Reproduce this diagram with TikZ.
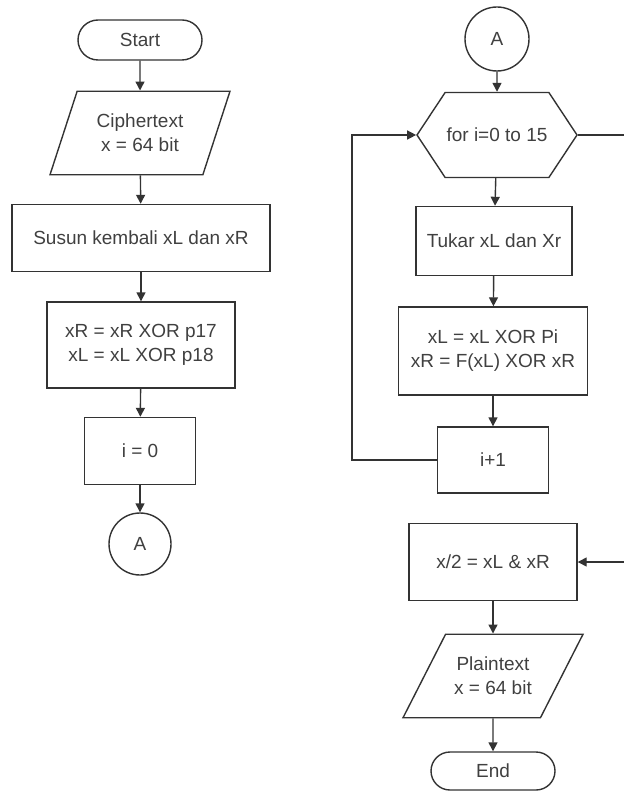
\documentclass[tikz,border=0pt]{standalone}
\usepackage{fontspec}
\setmainfont{Liberation Sans}
\usetikzlibrary{shapes.geometric,shapes.misc,shapes.symbols,arrows.meta}
\definecolor{linegray}{HTML}{333333}
\definecolor{textgray}{HTML}{404040}

\begin{document}
\begin{tikzpicture}[x=0.5pt,y=-0.5pt,
  font=\fontsize{9.5}{12}\selectfont,
  box/.style={draw=linegray,line width=0.7pt,text=textgray,align=center,inner sep=0pt},
  term/.style={box,rounded rectangle,minimum width=62pt,minimum height=20pt},
  io/.style={box,trapezium,trapezium stretches body,minimum width=90pt,inner ysep=11.4pt},
  proc/.style={box,rectangle},
  conn/.style={box,circle,minimum size=31pt},
  loophex/.style={box,signal,signal to=west and east,signal pointer angle=113,
    minimum width=80pt,minimum height=42.5pt},
  flow/.style={draw=linegray,line width=0.7pt,-{Triangle[length=4.5pt,width=4.5pt]}},
  wire/.style={draw=linegray,line width=0.7pt}]
\useasboundingbox (0,0) rectangle (624,791);

% left column
\node[term] (start) at (140,40) {Start};
\node[io,trapezium left angle=72,trapezium right angle=108] (cin) at (140,133) {Ciphertext\\x = 64 bit};
\node[proc,minimum width=129pt,minimum height=33.5pt] (swap0) at (141,238) {Susun kembali xL dan xR};
\node[proc,minimum width=94pt,minimum height=43pt] (pxor) at (141,345) {xR = xR XOR p17\\xL = xL XOR p18};
\node[proc,minimum width=55.5pt,minimum height=33.5pt] (init) at (140,451) {i = 0};
\node[conn] (aout) at (140,544) {A};

% right column
\node[conn,minimum size=32pt] (ain) at (497,39) {A};
\node[loophex] (loop) at (497,135) {for i=0 to 15};
\node[proc,minimum width=78pt,minimum height=34.5pt] (swap) at (494,241) {Tukar xL dan Xr};
\node[proc,minimum width=94.5pt,minimum height=44pt] (round) at (493,351) {xL = xL XOR Pi\\xR = F(xL) XOR xR};
\node[proc,minimum width=55.5pt,minimum height=33pt] (inc) at (493,460) {i+1};
\node[proc,minimum width=84pt,minimum height=38.5pt] (join) at (493,562) {x/2 = xL \& xR};
\node[io,trapezium left angle=63,trapezium right angle=117] (pout) at (493,676) {Plaintext\\x = 64 bit};
\node[term,minimum height=19pt] (end) at (493,771) {End};

\coordinate (back) at (352,460);
\coordinate (edge) at (624.5,135);

% connectors
\draw[flow] (start) -- (cin);
\draw[flow] (cin) -- (swap0);
\draw[flow] (swap0) -- (pxor);
\draw[flow] (pxor) -- (init);
\draw[flow] (init) -- (aout);
\draw[flow] (ain) -- (loop);
\draw[flow] (loop) -- (swap);
\draw[flow] (swap) -- (round);
\draw[flow] (round) -- (inc);
\draw[flow] (inc) -- (back) |- (loop);
\draw[flow] (loop.east) -- (edge) |- (join);
\draw[flow] (join) -- (pout);
\draw[flow] (pout) -- (end);
\end{tikzpicture}
\end{document}
